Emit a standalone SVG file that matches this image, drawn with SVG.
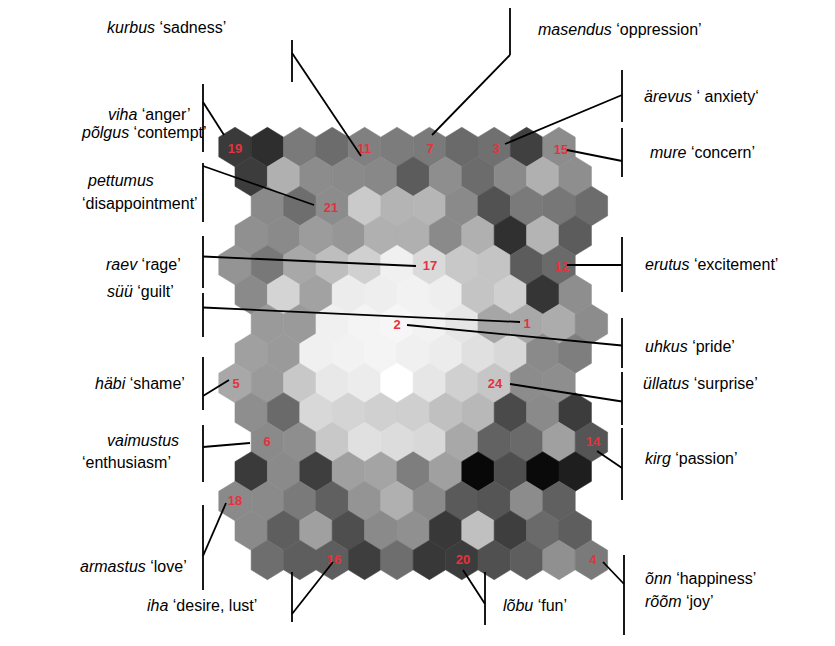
<svg xmlns="http://www.w3.org/2000/svg" xmlns:xlink="http://www.w3.org/1999/xlink" width="835" height="646" viewBox="0 0 835 646">
  <style>
    .lbl { font-family: "Liberation Sans", Arial, sans-serif; font-size: 16px; fill: #000; }
    .it { font-style: italic; }
    .num { font-family: "Liberation Sans", Arial, sans-serif; font-size: 13px; font-weight: bold; fill: #e5323c; text-anchor: middle; }
    .bar, .lead { stroke: #000; stroke-width: 1.8; fill: none; }
  </style>
  <defs>
    <polygon id="h" points="0,-19.7 16.2,-9.85 16.2,9.85 0,19.7 -16.2,9.85 -16.2,-9.85" fill="currentColor" stroke="currentColor" stroke-width="0.6"/>
  </defs>
  <rect width="835" height="646" fill="#fff"/>

  <!-- self-organising map: 15 rows x 11 hexagons -->
  <g id="som-grid">
    <g transform="translate(0,147)">
      <use xlink:href="#h" x="235" color="#3a3a3a"/><use xlink:href="#h" x="267.4" color="#2e2e2e"/><use xlink:href="#h" x="299.8" color="#7a7a7a"/><use xlink:href="#h" x="332.2" color="#6c6c6c"/><use xlink:href="#h" x="364.6" color="#808080"/><use xlink:href="#h" x="397" color="#7c7c7c"/><use xlink:href="#h" x="429.4" color="#7a7a7a"/><use xlink:href="#h" x="461.8" color="#6a6a6a"/><use xlink:href="#h" x="494.2" color="#707070"/><use xlink:href="#h" x="526.6" color="#404040"/><use xlink:href="#h" x="559" color="#8c8c8c"/>
    </g>
    <g transform="translate(0,176.5)">
      <use xlink:href="#h" x="251.2" color="#3c3c3c"/><use xlink:href="#h" x="283.6" color="#b0b0b0"/><use xlink:href="#h" x="316" color="#8c8c8c"/><use xlink:href="#h" x="348.4" color="#8a8a8a"/><use xlink:href="#h" x="380.8" color="#888888"/><use xlink:href="#h" x="413.2" color="#5c5c5c"/><use xlink:href="#h" x="445.6" color="#8e8e8e"/><use xlink:href="#h" x="478" color="#6c6c6c"/><use xlink:href="#h" x="510.4" color="#8a8a8a"/><use xlink:href="#h" x="542.8" color="#b0b0b0"/><use xlink:href="#h" x="575.2" color="#8e8e8e"/>
    </g>
    <g transform="translate(0,206)">
      <use xlink:href="#h" x="267.4" color="#8a8a8a"/><use xlink:href="#h" x="299.8" color="#6e6e6e"/><use xlink:href="#h" x="332.2" color="#8c8c8c"/><use xlink:href="#h" x="364.6" color="#cacaca"/><use xlink:href="#h" x="397" color="#b4b4b4"/><use xlink:href="#h" x="429.4" color="#b6b6b6"/><use xlink:href="#h" x="461.8" color="#8a8a8a"/><use xlink:href="#h" x="494.2" color="#525252"/><use xlink:href="#h" x="526.6" color="#7a7a7a"/><use xlink:href="#h" x="559" color="#777777"/><use xlink:href="#h" x="591.4" color="#6c6c6c"/>
    </g>
    <g transform="translate(0,235.5)">
      <use xlink:href="#h" x="251.2" color="#909090"/><use xlink:href="#h" x="283.6" color="#8a8a8a"/><use xlink:href="#h" x="316" color="#9c9c9c"/><use xlink:href="#h" x="348.4" color="#969696"/><use xlink:href="#h" x="380.8" color="#b0b0b0"/><use xlink:href="#h" x="413.2" color="#b0b0b0"/><use xlink:href="#h" x="445.6" color="#8a8a8a"/><use xlink:href="#h" x="478" color="#b0b0b0"/><use xlink:href="#h" x="510.4" color="#303030"/><use xlink:href="#h" x="542.8" color="#b4b4b4"/><use xlink:href="#h" x="575.2" color="#5c5c5c"/>
    </g>
    <g transform="translate(0,265)">
      <use xlink:href="#h" x="235" color="#949494"/><use xlink:href="#h" x="267.4" color="#787878"/><use xlink:href="#h" x="299.8" color="#a8a8a8"/><use xlink:href="#h" x="332.2" color="#bebebe"/><use xlink:href="#h" x="364.6" color="#d0d0d0"/><use xlink:href="#h" x="397" color="#f0f0f0"/><use xlink:href="#h" x="429.4" color="#dadada"/><use xlink:href="#h" x="461.8" color="#c8c8c8"/><use xlink:href="#h" x="494.2" color="#c4c4c4"/><use xlink:href="#h" x="526.6" color="#5c5c5c"/><use xlink:href="#h" x="559" color="#6a6a6a"/>
    </g>
    <g transform="translate(0,294.5)">
      <use xlink:href="#h" x="251.2" color="#8a8a8a"/><use xlink:href="#h" x="283.6" color="#d4d4d4"/><use xlink:href="#h" x="316" color="#a2a2a2"/><use xlink:href="#h" x="348.4" color="#ececec"/><use xlink:href="#h" x="380.8" color="#eeeeee"/><use xlink:href="#h" x="413.2" color="#f2f2f2"/><use xlink:href="#h" x="445.6" color="#eeeeee"/><use xlink:href="#h" x="478" color="#c4c4c4"/><use xlink:href="#h" x="510.4" color="#d0d0d0"/><use xlink:href="#h" x="542.8" color="#353535"/><use xlink:href="#h" x="575.2" color="#8e8e8e"/>
    </g>
    <g transform="translate(0,324)">
      <use xlink:href="#h" x="267.4" color="#9a9a9a"/><use xlink:href="#h" x="299.8" color="#9a9a9a"/><use xlink:href="#h" x="332.2" color="#f0f0f0"/><use xlink:href="#h" x="364.6" color="#f4f4f4"/><use xlink:href="#h" x="397" color="#f6f6f6"/><use xlink:href="#h" x="429.4" color="#f2f2f2"/><use xlink:href="#h" x="461.8" color="#e6e6e6"/><use xlink:href="#h" x="494.2" color="#a6a6a6"/><use xlink:href="#h" x="526.6" color="#a8a8a8"/><use xlink:href="#h" x="559" color="#acacac"/><use xlink:href="#h" x="591.4" color="#8c8c8c"/>
    </g>
    <g transform="translate(0,353.5)">
      <use xlink:href="#h" x="251.2" color="#a0a0a0"/><use xlink:href="#h" x="283.6" color="#9a9a9a"/><use xlink:href="#h" x="316" color="#f0f0f0"/><use xlink:href="#h" x="348.4" color="#f2f2f2"/><use xlink:href="#h" x="380.8" color="#f4f4f4"/><use xlink:href="#h" x="413.2" color="#f0f0f0"/><use xlink:href="#h" x="445.6" color="#ececec"/><use xlink:href="#h" x="478" color="#e0e0e0"/><use xlink:href="#h" x="510.4" color="#d8d8d8"/><use xlink:href="#h" x="542.8" color="#8a8a8a"/><use xlink:href="#h" x="575.2" color="#7e7e7e"/>
    </g>
    <g transform="translate(0,383)">
      <use xlink:href="#h" x="235" color="#a8a8a8"/><use xlink:href="#h" x="267.4" color="#9a9a9a"/><use xlink:href="#h" x="299.8" color="#c8c8c8"/><use xlink:href="#h" x="332.2" color="#e8e8e8"/><use xlink:href="#h" x="364.6" color="#ececec"/><use xlink:href="#h" x="397" color="#ffffff"/><use xlink:href="#h" x="429.4" color="#e6e6e6"/><use xlink:href="#h" x="461.8" color="#d0d0d0"/><use xlink:href="#h" x="494.2" color="#c6c6c6"/><use xlink:href="#h" x="526.6" color="#8c8c8c"/><use xlink:href="#h" x="559" color="#8e8e8e"/>
    </g>
    <g transform="translate(0,412.5)">
      <use xlink:href="#h" x="251.2" color="#8e8e8e"/><use xlink:href="#h" x="283.6" color="#6a6a6a"/><use xlink:href="#h" x="316" color="#d8d8d8"/><use xlink:href="#h" x="348.4" color="#d4d4d4"/><use xlink:href="#h" x="380.8" color="#d0d0d0"/><use xlink:href="#h" x="413.2" color="#cfcfcf"/><use xlink:href="#h" x="445.6" color="#c0c0c0"/><use xlink:href="#h" x="478" color="#b8b8b8"/><use xlink:href="#h" x="510.4" color="#4a4a4a"/><use xlink:href="#h" x="542.8" color="#8a8a8a"/><use xlink:href="#h" x="575.2" color="#3c3c3c"/>
    </g>
    <g transform="translate(0,442)">
      <use xlink:href="#h" x="267.4" color="#8a8a8a"/><use xlink:href="#h" x="299.8" color="#8e8e8e"/><use xlink:href="#h" x="332.2" color="#c8c8c8"/><use xlink:href="#h" x="364.6" color="#e0e0e0"/><use xlink:href="#h" x="397" color="#dcdcdc"/><use xlink:href="#h" x="429.4" color="#d8d8d8"/><use xlink:href="#h" x="461.8" color="#a8a8a8"/><use xlink:href="#h" x="494.2" color="#626262"/><use xlink:href="#h" x="526.6" color="#6a6a6a"/><use xlink:href="#h" x="559" color="#a0a0a0"/><use xlink:href="#h" x="591.4" color="#555555"/>
    </g>
    <g transform="translate(0,471.5)">
      <use xlink:href="#h" x="251.2" color="#3a3a3a"/><use xlink:href="#h" x="283.6" color="#8a8a8a"/><use xlink:href="#h" x="316" color="#3e3e3e"/><use xlink:href="#h" x="348.4" color="#a0a0a0"/><use xlink:href="#h" x="380.8" color="#a4a4a4"/><use xlink:href="#h" x="413.2" color="#7e7e7e"/><use xlink:href="#h" x="445.6" color="#a0a0a0"/><use xlink:href="#h" x="478" color="#080808"/><use xlink:href="#h" x="510.4" color="#4e4e4e"/><use xlink:href="#h" x="542.8" color="#0a0a0a"/><use xlink:href="#h" x="575.2" color="#1e1e1e"/>
    </g>
    <g transform="translate(0,501)">
      <use xlink:href="#h" x="235" color="#8a8a8a"/><use xlink:href="#h" x="267.4" color="#8a8a8a"/><use xlink:href="#h" x="299.8" color="#7a7a7a"/><use xlink:href="#h" x="332.2" color="#606060"/><use xlink:href="#h" x="364.6" color="#949494"/><use xlink:href="#h" x="397" color="#b0b0b0"/><use xlink:href="#h" x="429.4" color="#8a8a8a"/><use xlink:href="#h" x="461.8" color="#5a5a5a"/><use xlink:href="#h" x="494.2" color="#555555"/><use xlink:href="#h" x="526.6" color="#8c8c8c"/><use xlink:href="#h" x="559" color="#606060"/>
    </g>
    <g transform="translate(0,530.5)">
      <use xlink:href="#h" x="251.2" color="#8a8a8a"/><use xlink:href="#h" x="283.6" color="#5e5e5e"/><use xlink:href="#h" x="316" color="#a0a0a0"/><use xlink:href="#h" x="348.4" color="#4e4e4e"/><use xlink:href="#h" x="380.8" color="#8a8a8a"/><use xlink:href="#h" x="413.2" color="#909090"/><use xlink:href="#h" x="445.6" color="#383838"/><use xlink:href="#h" x="478" color="#c0c0c0"/><use xlink:href="#h" x="510.4" color="#3e3e3e"/><use xlink:href="#h" x="542.8" color="#6a6a6a"/><use xlink:href="#h" x="575.2" color="#5e5e5e"/>
    </g>
    <g transform="translate(0,560)">
      <use xlink:href="#h" x="267.4" color="#6e6e6e"/><use xlink:href="#h" x="299.8" color="#5e5e5e"/><use xlink:href="#h" x="332.2" color="#5e5e5e"/><use xlink:href="#h" x="364.6" color="#3e3e3e"/><use xlink:href="#h" x="397" color="#6e6e6e"/><use xlink:href="#h" x="429.4" color="#383838"/><use xlink:href="#h" x="461.8" color="#3c3c3c"/><use xlink:href="#h" x="494.2" color="#505050"/><use xlink:href="#h" x="526.6" color="#5e5e5e"/><use xlink:href="#h" x="559" color="#909090"/><use xlink:href="#h" x="591.4" color="#7a7a7a"/>
    </g>
  </g>

  <!-- numbered map units -->
  <g id="unit-numbers">
    <text class="num" x="235" y="152.5">19</text>
    <text class="num" x="364" y="153">11</text>
    <text class="num" x="430" y="153">7</text>
    <text class="num" x="496" y="153">3</text>
    <text class="num" x="561" y="154">15</text>
    <text class="num" x="331" y="211.5">21</text>
    <text class="num" x="430" y="270">17</text>
    <text class="num" x="562" y="271">12</text>
    <text class="num" x="397" y="329">2</text>
    <text class="num" x="527" y="328">1</text>
    <text class="num" x="236" y="388">5</text>
    <text class="num" x="495" y="388">24</text>
    <text class="num" x="267" y="446">6</text>
    <text class="num" x="593" y="446">14</text>
    <text class="num" x="235" y="505">18</text>
    <text class="num" x="334" y="564">16</text>
    <text class="num" x="463" y="564">20</text>
    <text class="num" x="593" y="564">4</text>
  </g>

  <!-- leader lines from brackets to map units -->
  <g id="connectors" class="lead">
    <line x1="203" y1="102" x2="224" y2="135"/>
    <line x1="292" y1="53" x2="361" y2="156"/>
    <line x1="510" y1="55" x2="432" y2="135"/>
    <line x1="622" y1="95" x2="505" y2="144"/>
    <line x1="622" y1="161" x2="567" y2="150"/>
    <line x1="203" y1="166" x2="314" y2="205"/>
    <line x1="203" y1="256.5" x2="416" y2="266"/>
    <line x1="203" y1="307.5" x2="520" y2="322"/>
    <line x1="407" y1="325" x2="622" y2="345.5"/>
    <line x1="622" y1="265" x2="567" y2="265"/>
    <line x1="203" y1="396" x2="229" y2="380"/>
    <line x1="510" y1="384" x2="622" y2="401.5"/>
    <line x1="203" y1="447" x2="250" y2="443"/>
    <line x1="597" y1="451" x2="622" y2="468"/>
    <line x1="203" y1="556" x2="226" y2="503"/>
    <line x1="292" y1="614" x2="333" y2="562"/>
    <line x1="463" y1="570" x2="485" y2="604"/>
    <line x1="603" y1="562" x2="624" y2="584"/>
  </g>

  <!-- emotion labels with their brackets -->
  <g id="kurbus"><line class="bar" x1="292" y1="40" x2="292" y2="82"/><text class="lbl" x="107" y="33"><tspan class="it">kurbus</tspan> ‘sadness’</text></g>
  <g id="masendus"><line class="bar" x1="510" y1="8" x2="510" y2="55"/><text class="lbl" x="538" y="35"><tspan class="it">masendus</tspan> ‘oppression’</text></g>
  <g id="viha-polgus"><line class="bar" x1="203" y1="84" x2="203" y2="152"/>
    <text class="lbl" x="108" y="120"><tspan class="it">viha</tspan> ‘anger’</text>
    <text class="lbl" x="82" y="138"><tspan class="it">põlgus</tspan> ‘contempt’</text></g>
  <g id="pettumus"><line class="bar" x1="203" y1="163" x2="203" y2="222"/>
    <text class="lbl" x="88" y="186"><tspan class="it">pettumus</tspan></text>
    <text class="lbl" x="82" y="209">‘disappointment’</text></g>
  <g id="raev"><line class="bar" x1="203" y1="236" x2="203" y2="288"/><text class="lbl" x="106" y="270"><tspan class="it">raev</tspan> ‘rage’</text></g>
  <g id="syy"><line class="bar" x1="203" y1="293" x2="203" y2="337"/><text class="lbl" x="107" y="297"><tspan class="it">süü</tspan> ‘guilt’</text></g>
  <g id="habi"><line class="bar" x1="203" y1="357" x2="203" y2="410"/><text class="lbl" x="95" y="389"><tspan class="it">häbi</tspan> ‘shame’</text></g>
  <g id="vaimustus"><line class="bar" x1="203" y1="425" x2="203" y2="482"/>
    <text class="lbl" x="107" y="446"><tspan class="it">vaimustus</tspan></text>
    <text class="lbl" x="82" y="468">‘enthusiasm’</text></g>
  <g id="armastus"><line class="bar" x1="203" y1="505" x2="203" y2="590"/><text class="lbl" x="80" y="572"><tspan class="it">armastus</tspan> ‘love’</text></g>
  <g id="iha"><line class="bar" x1="292" y1="572" x2="292" y2="622"/><text class="lbl" x="147" y="611"><tspan class="it">iha</tspan> ‘desire, lust’</text></g>
  <g id="lobu"><line class="bar" x1="485" y1="572" x2="485" y2="625"/><text class="lbl" x="503" y="611"><tspan class="it">lõbu</tspan> ‘fun’</text></g>
  <g id="arevus"><line class="bar" x1="622" y1="70" x2="622" y2="122"/><text class="lbl" x="644" y="102"><tspan class="it">ärevus</tspan> ‘ anxiety‘</text></g>
  <g id="mure"><line class="bar" x1="622" y1="128" x2="622" y2="177"/><text class="lbl" x="650" y="158"><tspan class="it">mure</tspan> ‘concern’</text></g>
  <g id="erutus"><line class="bar" x1="622" y1="237" x2="622" y2="292"/><text class="lbl" x="645" y="270"><tspan class="it">erutus</tspan> ‘excitement’</text></g>
  <g id="uhkus"><line class="bar" x1="622" y1="318" x2="622" y2="368"/><text class="lbl" x="645" y="352"><tspan class="it">uhkus</tspan> ‘pride’</text></g>
  <g id="ullatus"><line class="bar" x1="622" y1="372" x2="622" y2="425"/><text class="lbl" x="643" y="389"><tspan class="it">üllatus</tspan> ‘surprise’</text></g>
  <g id="kirg"><line class="bar" x1="622" y1="428" x2="622" y2="500"/><text class="lbl" x="645" y="464"><tspan class="it">kirg</tspan> ‘passion’</text></g>
  <g id="onn-room"><line class="bar" x1="624" y1="555" x2="624" y2="635"/>
    <text class="lbl" x="645" y="584"><tspan class="it">õnn</tspan> ‘happiness’</text>
    <text class="lbl" x="645" y="607"><tspan class="it">rõõm</tspan> ‘joy’</text></g>
</svg>
